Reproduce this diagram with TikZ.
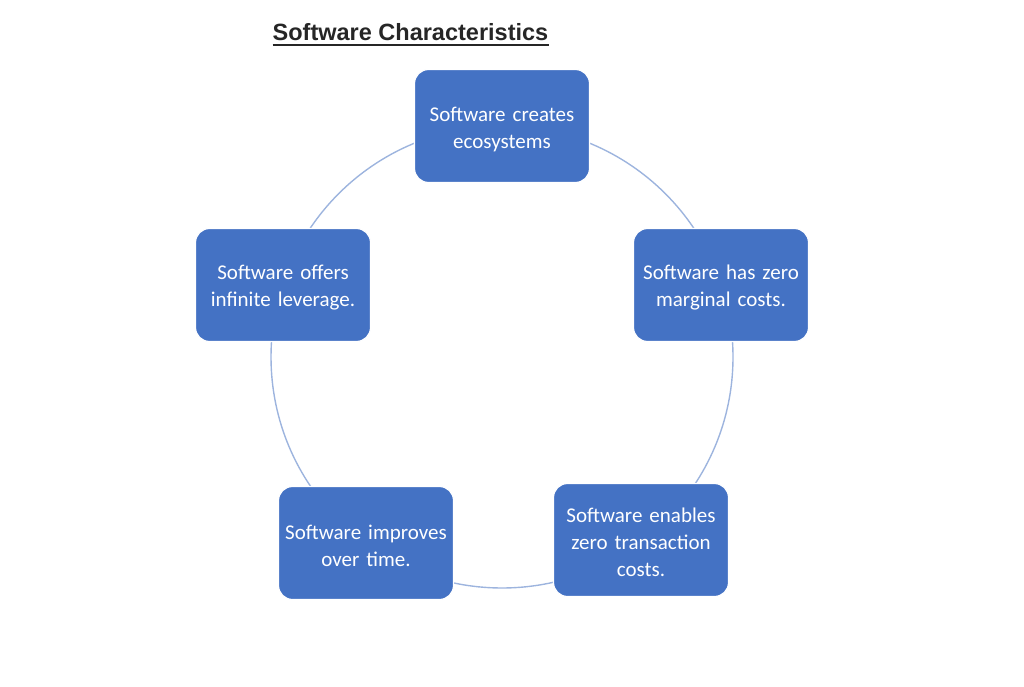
\documentclass[tikz,border=0pt]{standalone}
\usepackage{fontspec}
\setmainfont{Carlito}
\newfontfamily\titlefont{Liberation Sans}
\definecolor{boxblue}{HTML}{4472C4}
\definecolor{ringblue}{HTML}{9DB4DE}
\begin{document}
\begin{tikzpicture}[x=1pt,y=-1pt,
  item/.style={draw=white, line width=1.2pt, fill=boxblue, rounded corners=14pt,
    minimum width=175pt, minimum height=113pt, inner sep=0pt},
  itemtext/.style={text=white, align=center,
    font=\fontsize{21}{27}\selectfont, text width=170pt, inner sep=0pt},
  ring/.style={draw=ringblue, line width=1.4pt}]
\useasboundingbox (0,0) rectangle (1024,687);
\coordinate (c) at (502,357);
\draw[ring] (c) circle (231pt);
\node[item] (a) at (502,126) {};
\node[item] (b) at (721,285) {};
\node[item] (d) at (641,540) {};
\node[item] (e) at (366,543) {};
\node[item] (f) at (283,285) {};
\node[itemtext] (at) at ([yshift=-3pt]a.center) {Software creates\\ecosystems};
\node[itemtext] (bt) at ([yshift=-3pt]b.center) {Software has zero\\marginal costs.};
\node[itemtext] (dt) at ([yshift=-2pt]d.center) {Software enables\\zero transaction\\costs.};
\node[itemtext] (et) at ([yshift=-3pt]e.center) {Software improves\\over time.};
\node[itemtext] (ft) at ([yshift=-3pt]f.center) {Software offers\\infinite leverage.};
\node[font=\titlefont\bfseries\fontsize{23.5}{28}\selectfont, text=black!85, inner sep=0pt, anchor=base] (t) at (410.5,41) {Software Characteristics};
\draw[black!85, line width=1.7pt] ([yshift=-4pt]t.base west) -- ([yshift=-4pt]t.base east);
\end{tikzpicture}
\end{document}
